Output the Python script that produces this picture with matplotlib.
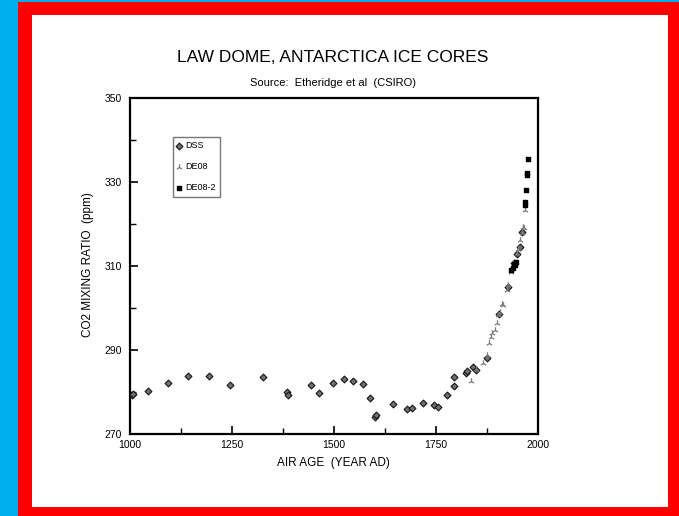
import matplotlib
matplotlib.use("Agg")
import matplotlib.pyplot as plt
from matplotlib.patches import Rectangle
from matplotlib.ticker import MultipleLocator

plt.rcParams['font.family'] = ['Liberation Sans', 'DejaVu Sans']

# ---- data ----
dss_year = [1004, 1008, 1045, 1094, 1143, 1194, 1245, 1325, 1386, 1388, 1444, 1464,
            1497, 1525, 1546, 1570, 1588, 1601, 1603, 1645, 1678, 1690, 1717, 1746,
            1756, 1776, 1795, 1795, 1823, 1826, 1841, 1848, 1875, 1905, 1927, 1940,
            1948, 1955, 1962]
dss_co2 = [279.3, 279.6, 280.2, 282.2, 283.8, 283.8, 281.7, 283.5, 280.1, 279.3, 281.7, 279.7,
           282.2, 283.2, 282.6, 281.8, 278.5, 274.1, 274.6, 277.1, 275.9, 276.1, 277.5, 276.9,
           276.5, 279.3, 281.4, 283.6, 284.6, 285.0, 286.0, 285.2, 288.0, 298.5, 305.0, 310.8,
           312.8, 314.5, 318.0]

de08_year = [1837, 1847, 1866, 1876, 1881, 1885, 1888, 1895, 1899, 1903, 1907, 1911,
             1914, 1923, 1927, 1935, 1939, 1948, 1952, 1956, 1960, 1963, 1965, 1969]
de08_co2 = [282.6, 285.5, 286.8, 288.8, 291.6, 293.2, 294.0, 294.8, 296.4, 298.3, 299.1, 301.0,
            300.7, 304.3, 305.5, 308.5, 310.6, 313.0, 314.0, 316.2, 317.8, 319.4, 319.0, 323.3]

de082_year = [1935, 1938, 1940, 1944, 1946, 1967, 1968, 1970, 1974, 1974, 1976]
de082_co2 = [309.0, 309.6, 310.4, 310.2, 311.0, 325.3, 324.5, 328.1, 331.7, 332.2, 335.4]

x_ticks = [1000, 1250, 1500, 1750, 2000]
y_ticks = [270, 290, 310, 330, 350]

W, H = 679, 516
fig = plt.figure(figsize=(W / 100, H / 100), dpi=100)
fig.patch.set_facecolor('#00AEEF')

def px_rect(x0, y0, x1, y1, color):
    fig.patches.append(Rectangle((x0 / W, 1 - y1 / H), (x1 - x0) / W, (y1 - y0) / H,
                                 transform=fig.transFigure, facecolor=color,
                                 edgecolor='none', zorder=-10))

px_rect(18, 2, W, H, '#FF0000')
px_rect(32, 15, 668, 507, '#FFFFFF')

ax = fig.add_axes([130 / W, 1 - 434 / H, 408 / W, 336 / H])
ax.set_facecolor('white')

ax.scatter(dss_year, dss_co2, marker='D', s=12, facecolor='#707070', edgecolor='#151515',
           linewidths=0.8, label='DSS', zorder=3)
ax.scatter(de08_year, de08_co2, marker='2', s=22, color='#7a7a7a', linewidths=0.9,
           label='DE08', zorder=4)
ax.scatter(de082_year, de082_co2, marker='s', s=9, color='black', label='DE08-2', zorder=5)

ax.set_xlim(1000, 2000)
ax.set_ylim(270, 350)
ax.set_xticks(x_ticks)
ax.set_yticks(y_ticks)
ax.xaxis.set_minor_locator(MultipleLocator(125))
ax.yaxis.set_minor_locator(MultipleLocator(10))
ax.tick_params(which='major', direction='in', length=6, width=1.2, labelsize=7.5, color='black')
ax.tick_params(which='minor', direction='in', length=4, width=1.0)
ax.tick_params(axis='x', pad=4)
ax.tick_params(axis='y', pad=6)
for s in ax.spines.values():
    s.set_linewidth(1.6)

fig.text(333 / W, 1 - 58 / H, 'LAW DOME, ANTARCTICA ICE CORES', ha='center', va='center',
         fontsize=12.5)
fig.text(333 / W, 1 - 83 / H, 'Source:  Etheridge et al  (CSIRO)', ha='center', va='center',
         fontsize=8)
fig.text(333 / W, 1 - 463 / H, 'AIR AGE  (YEAR AD)', ha='center', va='center', fontsize=8.5)
fig.text(88 / W, 1 - 265 / H, 'CO2 MIXING RATIO  (ppm)', ha='center', va='center',
         rotation=90, fontsize=8.5)

leg = ax.legend(loc='upper left', bbox_to_anchor=((173 - 130) / 408, (434 - 137) / 336),
                fontsize=6.5, frameon=True, fancybox=False, edgecolor='#555555',
                handlelength=0.5, handletextpad=0.4, labelspacing=1.35, borderpad=0.45,
                borderaxespad=0, scatterpoints=1)
leg.get_frame().set_linewidth(1.0)

fig.savefig('out.png', dpi=100, facecolor=fig.get_facecolor())
